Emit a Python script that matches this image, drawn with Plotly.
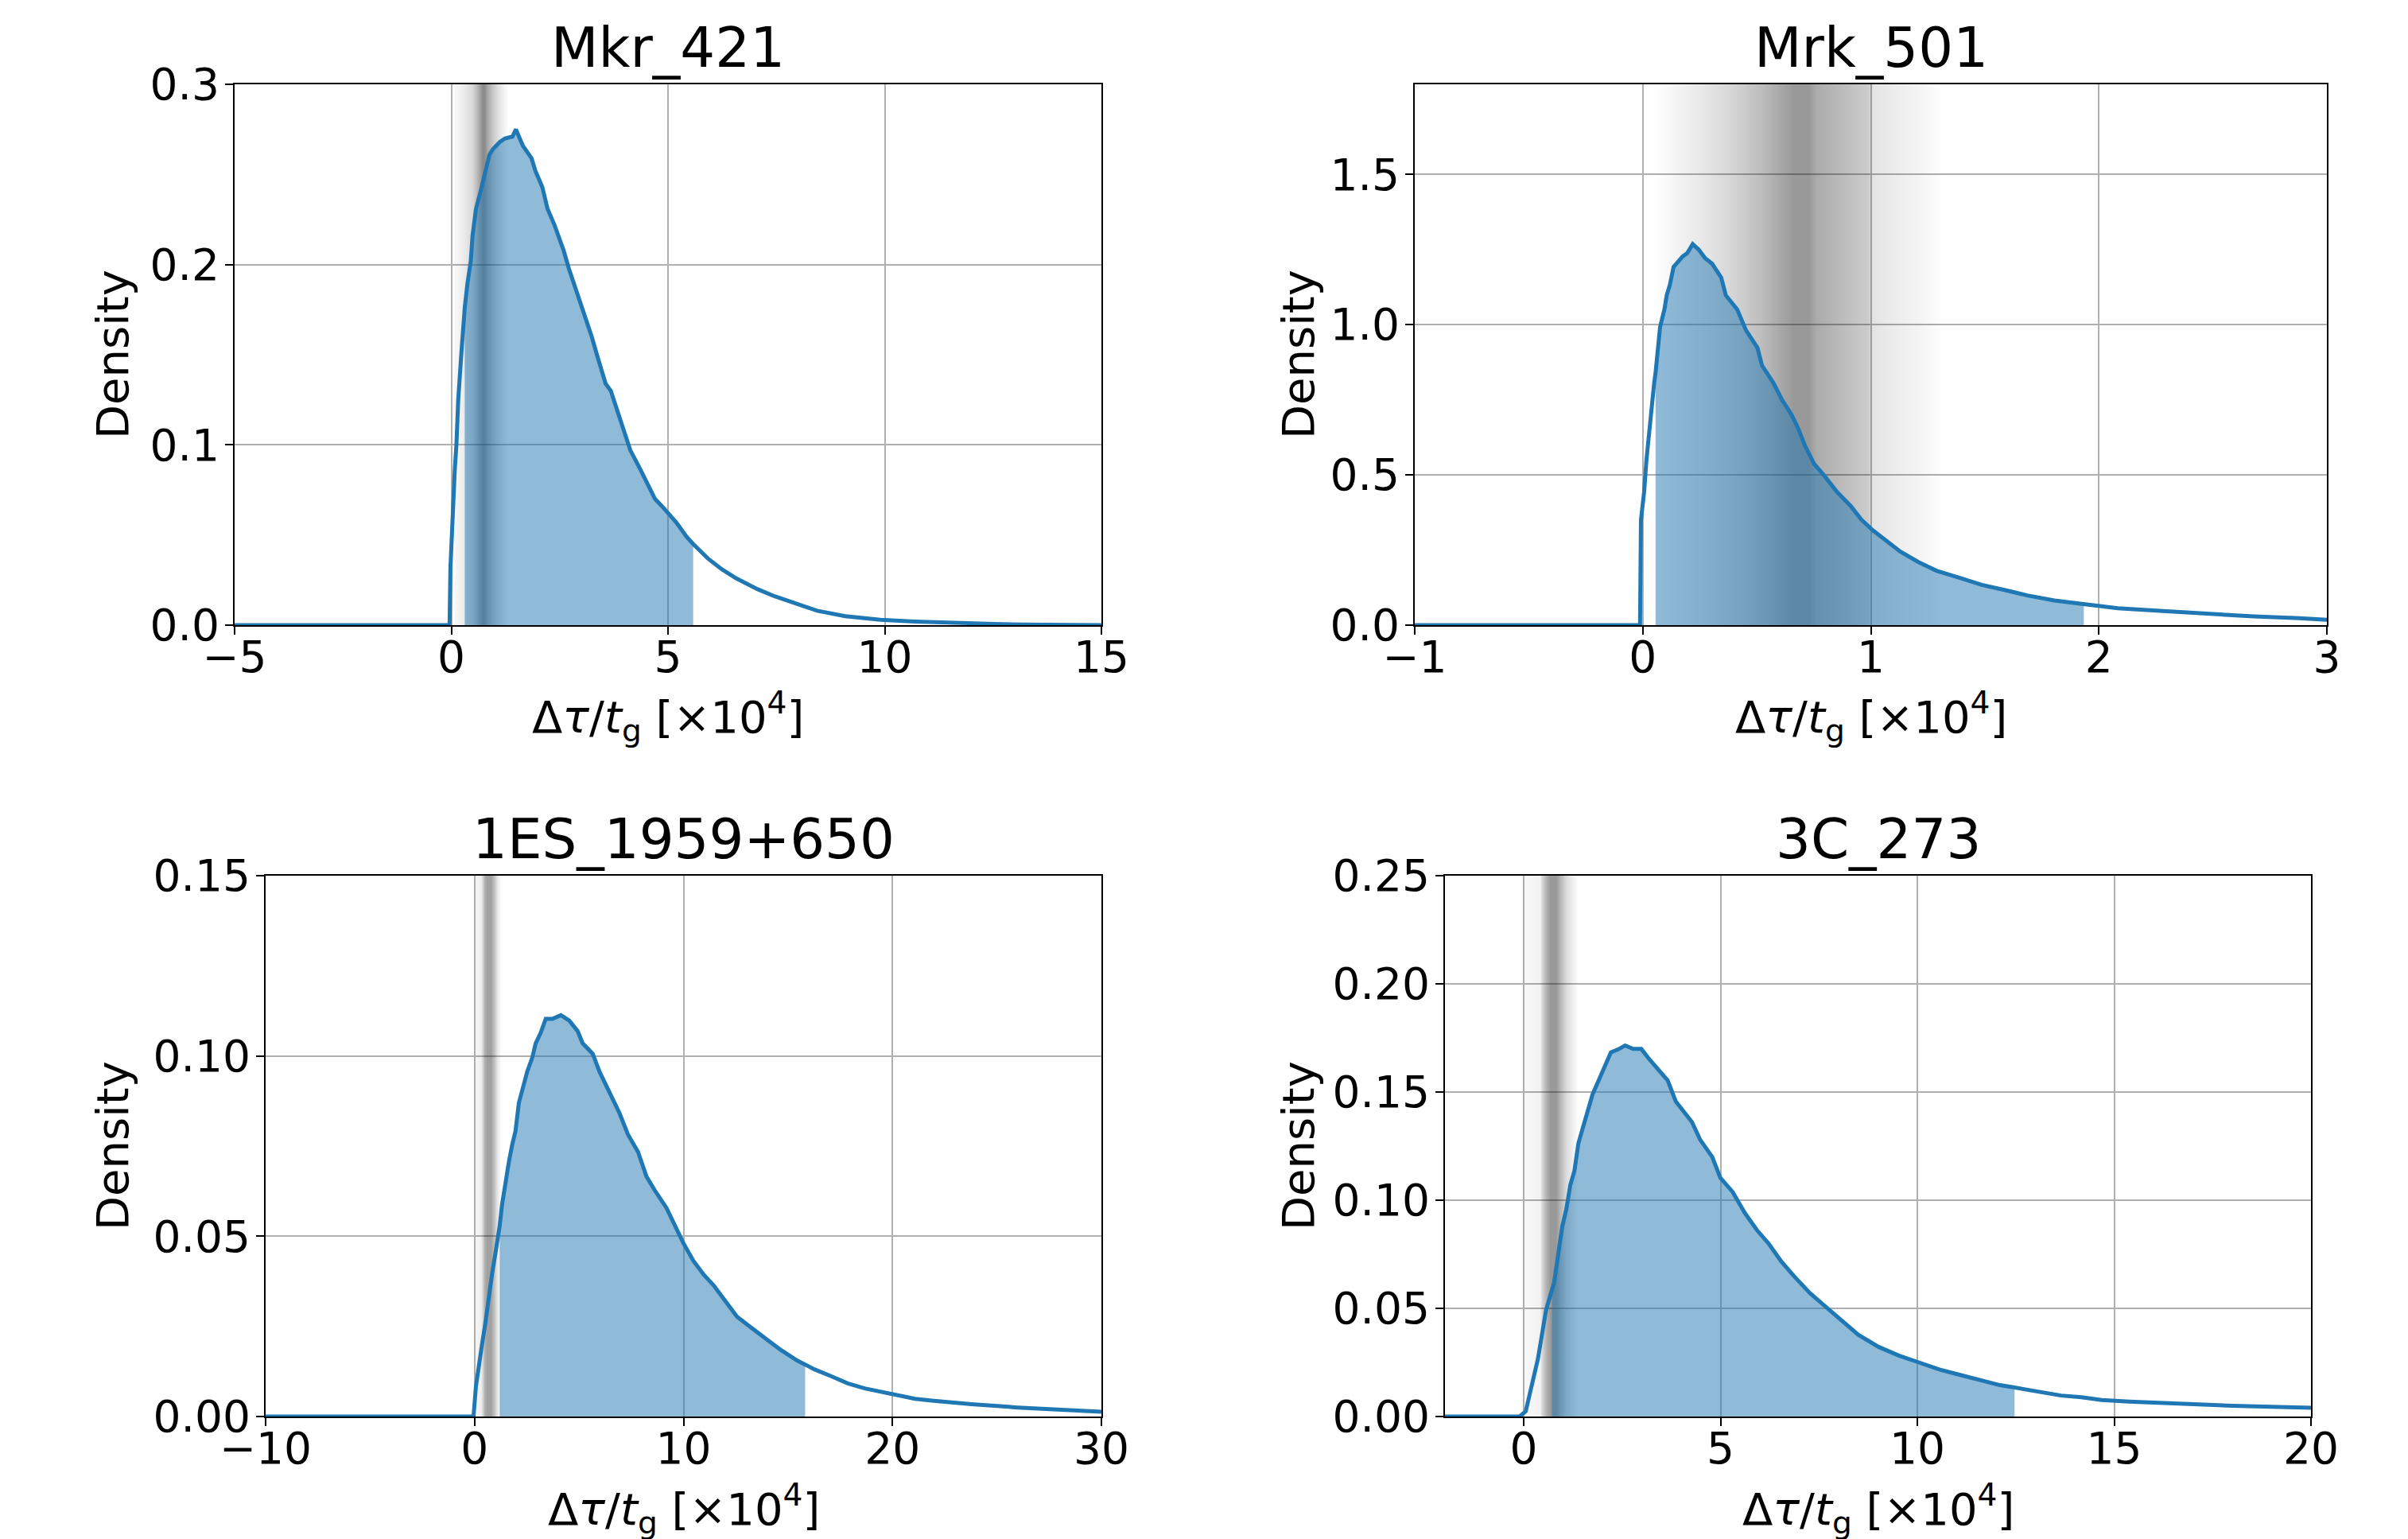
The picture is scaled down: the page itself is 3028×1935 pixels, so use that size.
import numpy as np
import plotly.graph_objects as go

# ---------------- data ----------------
titles = ["Mkr_421", "Mrk_501", "1ES_1959+650", "3C_273"]

mkr421_x = [-5, -0.04, -0.02, 0.03, 0.08, 0.12, 0.16, 0.23, 0.29, 0.31, 0.37, 0.45, 0.49, 0.57, 0.68,
            0.78, 0.88, 0.96, 1.12, 1.24, 1.41, 1.49, 1.65, 1.85, 1.94, 2.10, 2.22, 2.38, 2.59, 2.71,
            2.87, 3.07, 3.24, 3.36, 3.56, 3.68, 3.85, 4.01, 4.13, 4.37, 4.58, 4.70, 4.86, 5.19, 5.43,
            5.58, 5.92, 6.24, 6.57, 7.06, 7.46, 7.95, 8.44, 9.09, 9.90, 10.7, 11.7, 12.5, 13.2, 15]
mkr421_y = [0, 0, 0.032, 0.066, 0.086, 0.101, 0.125, 0.150, 0.171, 0.176, 0.189, 0.202, 0.216, 0.231, 0.241,
            0.251, 0.261, 0.264, 0.268, 0.270, 0.271, 0.275, 0.266, 0.259, 0.252, 0.243, 0.231, 0.222, 0.208, 0.198,
            0.187, 0.173, 0.160, 0.150, 0.134, 0.130, 0.117, 0.105, 0.097, 0.086, 0.076, 0.070, 0.066, 0.057, 0.049,
            0.045, 0.037, 0.031, 0.026, 0.020, 0.016, 0.012, 0.008, 0.005, 0.003, 0.002, 0.001, 0.0007, 0.0003, 0]

mrk501_x = [-1, -0.012, -0.008, 0.006, 0.016, 0.030, 0.040, 0.050, 0.056, 0.066, 0.076, 0.095, 0.105, 0.119,
            0.135, 0.175, 0.195, 0.219, 0.245, 0.274, 0.304, 0.344, 0.364, 0.414, 0.453, 0.503, 0.523, 0.573,
            0.612, 0.652, 0.682, 0.712, 0.751, 0.791, 0.851, 0.911, 0.960, 1.010, 1.070, 1.129, 1.209, 1.288,
            1.388, 1.487, 1.586, 1.686, 1.805, 1.934, 2.004, 2.083, 2.282, 2.481, 2.680, 2.879, 3.0]
mrk501_y = [0, 0, 0.350, 0.444, 0.549, 0.666, 0.748, 0.806, 0.84, 0.911, 0.993, 1.051, 1.098, 1.133,
            1.192, 1.227, 1.238, 1.268, 1.250, 1.221, 1.203, 1.157, 1.098, 1.051, 0.981, 0.923, 0.864, 0.806,
            0.748, 0.701, 0.654, 0.596, 0.537, 0.502, 0.444, 0.397, 0.350, 0.315, 0.280, 0.245, 0.210, 0.181,
            0.158, 0.134, 0.117, 0.099, 0.082, 0.069, 0.064, 0.056, 0.047, 0.037, 0.029, 0.023, 0.018]

es1959_x = [-10, -0.13, -0.05, 0.064, 0.193, 0.353, 0.514, 0.675, 0.835, 0.996, 1.157, 1.205, 1.317, 1.478,
            1.639, 1.799, 1.960, 2.120, 2.361, 2.522, 2.763, 2.924, 3.165, 3.406, 3.727, 4.129, 4.530, 4.932,
            5.173, 5.655, 5.976, 6.458, 6.940, 7.341, 7.823, 8.225, 8.627, 9.189, 9.671, 9.992, 10.47, 10.96,
            11.44, 11.92, 12.56, 13.20, 13.84, 14.65, 15.45, 15.82, 16.26, 17.06, 17.86, 18.67, 19.47, 20.27,
            21.08, 21.88, 22.68, 23.78, 26.0, 28.0, 30.0]
es1959_y = [0, 0, 0, 0.0083, 0.0141, 0.0199, 0.0258, 0.0335, 0.0394, 0.0452, 0.0510, 0.053, 0.0588, 0.0656,
            0.0705, 0.0753, 0.0792, 0.0870, 0.0928, 0.0957, 0.0996, 0.1035, 0.1064, 0.1103, 0.1103, 0.1113, 0.1098, 0.1069,
            0.1035, 0.1006, 0.0957, 0.0899, 0.0841, 0.0782, 0.0734, 0.0666, 0.0627, 0.0578, 0.0520, 0.0481, 0.0432, 0.0394,
            0.0364, 0.0326, 0.0277, 0.0248, 0.0219, 0.0185, 0.0155, 0.0143, 0.0131, 0.0112, 0.0092, 0.0078, 0.0068, 0.0058,
            0.0049, 0.0044, 0.0039, 0.0034, 0.0025, 0.0018, 0.0013]

c273_x = [-2, -0.103, 0.052, 0.155, 0.258, 0.361, 0.464, 0.567, 0.670, 0.72, 0.773, 0.876, 0.979, 1.082,
          1.185, 1.288, 1.391, 1.494, 1.648, 1.751, 1.906, 2.060, 2.215, 2.421, 2.575, 2.781, 2.988, 3.194,
          3.451, 3.657, 3.863, 4.069, 4.275, 4.481, 4.790, 4.996, 5.305, 5.614, 5.924, 6.233, 6.542, 6.851,
          7.263, 7.675, 8.087, 8.499, 9.014, 9.529, 10.04, 10.56, 11.07, 11.59, 12.10, 12.47, 13.13, 13.65,
          14.17, 14.68, 15.38, 16.5, 18.0, 20.0]
c273_y = [0, 0, 0.0024, 0.0105, 0.0169, 0.0266, 0.0378, 0.0491, 0.0556, 0.059, 0.0620, 0.0749, 0.0878, 0.0958,
          0.1071, 0.1135, 0.1264, 0.1329, 0.1425, 0.1490, 0.1554, 0.1618, 0.1683, 0.1699, 0.1715, 0.1699, 0.1699, 0.1651,
          0.1594, 0.1554, 0.1457, 0.1409, 0.1361, 0.1280, 0.1200, 0.1103, 0.1039, 0.0942, 0.0862, 0.0797, 0.0717, 0.0652,
          0.0572, 0.0507, 0.0443, 0.0378, 0.0322, 0.0282, 0.0250, 0.0217, 0.0193, 0.0169, 0.0145, 0.0134, 0.0113, 0.0097,
          0.0089, 0.0076, 0.0069, 0.0060, 0.0050, 0.0040]

# credible interval bounds (shaded region)
ci_lo = [0.31, 0.056, 1.205, 0.72]
ci_hi = [5.58, 1.934, 15.82, 12.47]

# gray constraint band: positions and shade strength
band1_x = [0.02, 0.10, 0.28, 0.47, 0.56, 0.65, 0.71, 0.77, 0.83, 0.95, 1.08, 1.19, 1.32]
band1_s = [0.0, 0.04, 0.075, 0.15, 0.25, 0.37, 0.45, 0.45, 0.35, 0.22, 0.12, 0.06, 0.0]
band2_x = [0.04, 0.10, 0.16, 0.28, 0.40, 0.52, 0.59, 0.63, 0.66, 0.73, 0.76, 0.85, 0.95, 0.99, 1.00, 1.10, 1.22, 1.32]
band2_s = [0.0, 0.02, 0.05, 0.10, 0.17, 0.26, 0.33, 0.37, 0.40, 0.40, 0.33, 0.28, 0.22, 0.20, 0.11, 0.075, 0.04, 0.0]
band3_x = [-0.05, 0.064, 0.27, 0.35, 0.48, 0.59, 0.76, 0.92, 1.08, 1.24, 1.35]
band3_s = [0.0, 0.04, 0.06, 0.12, 0.30, 0.37, 0.37, 0.25, 0.10, 0.02, 0.0]
band4_x = [-0.05, 0.03, 0.41, 0.46, 0.57, 0.67, 0.82, 0.93, 1.08, 1.24, 1.39]
band4_s = [0.0, 0.03, 0.05, 0.15, 0.31, 0.40, 0.40, 0.29, 0.14, 0.06, 0.0]

# axes
x_ranges = [[-5, 15], [-1, 3], [-10, 30], [-2, 20]]
y_ranges = [[0, 0.3], [0, 1.8], [0, 0.15], [0, 0.25]]
x_ticks = [[-5, 0, 5, 10, 15], [-1, 0, 1, 2, 3], [-10, 0, 10, 20, 30], [0, 5, 10, 15, 20]]
y_ticks = [[0, 0.1, 0.2, 0.3], [0, 0.5, 1.0, 1.5], [0, 0.05, 0.10, 0.15], [0, 0.05, 0.10, 0.15, 0.20, 0.25]]
y_formats = [".1f", ".1f", ".2f", ".2f"]

# ---------------- layout geometry ----------------
W, H = 3028, 1935
OFF = 8  # page body margin of the rendered html
px_boxes = [(295, 1385, 106, 786), (1779, 2926, 106, 786),
            (334, 1385, 1101, 1781), (1817, 2906, 1101, 1781)]
ylabel_x = [141, 1632, 141, 1632]
xlabel_y = [901, 901, 1897, 1897]

FONT = "DejaVu Sans"
BLUE = "#1f77b4"

curves_x = [mkr421_x, mrk501_x, es1959_x, c273_x]
curves_y = [mkr421_y, mrk501_y, es1959_y, c273_y]
bands_x = [band1_x, band2_x, band3_x, band4_x]
bands_s = [band1_s, band2_s, band3_s, band4_s]


def px(v):
    return (v - OFF) / W


def py(v):
    return 1 - (v - OFF) / H


fig = go.Figure()
annotations = []
for i in range(4):
    sfx = "" if i == 0 else str(i + 1)
    xa, ya = "x" + sfx, "y" + sfx
    ymax = y_ranges[i][1]
    bx = np.array(bands_x[i])
    bs = np.array(bands_s[i])
    fig.add_trace(go.Heatmap(
        x=bx, y=[0, ymax], z=[bs, bs], zmin=0, zmax=1, zsmooth="best",
        colorscale=[[0, "rgba(0,0,0,0)"], [1, "rgba(0,0,0,1)"]],
        showscale=False, hoverinfo="skip", xaxis=xa, yaxis=ya))
    cx = np.array(curves_x[i])
    cy = np.array(curves_y[i])
    m = (cx >= ci_lo[i]) & (cx <= ci_hi[i])
    fig.add_trace(go.Scatter(
        x=cx[m], y=cy[m], mode="lines", fill="tozeroy", line=dict(width=0, color=BLUE),
        fillcolor="rgba(31,119,180,0.5)", hoverinfo="skip", showlegend=False, xaxis=xa, yaxis=ya))
    fig.add_trace(go.Scatter(
        x=cx, y=cy, mode="lines", line=dict(width=5, color=BLUE),
        showlegend=False, xaxis=xa, yaxis=ya))

    l, r, t, b = px_boxes[i]
    xdom = [px(l), px(r)]
    ydom = [py(b), py(t)]
    common = dict(showline=True, linecolor="black", linewidth=2, mirror=True,
                  ticks="outside", ticklen=10, tickwidth=2, tickcolor="black",
                  showgrid=True, gridcolor="#b0b0b0", gridwidth=2, zeroline=False,
                  automargin=False,
                  tickfont=dict(family=FONT, size=55, color="black"), layer="below traces")
    fig.update_layout(**{
        "xaxis" + sfx: dict(domain=xdom, anchor=ya, range=x_ranges[i], tickvals=x_ticks[i],
                            ticklabelstandoff=-19, **common),
        "yaxis" + sfx: dict(domain=ydom, anchor=xa, range=y_ranges[i], tickvals=y_ticks[i],
                            tickformat=y_formats[i], ticklabelstandoff=-4, **common),
    })
    xc = px((l + r) / 2)
    annotations.append(dict(text=titles[i], x=xc, y=py(t), xref="paper", yref="paper",
                            xanchor="center", yanchor="bottom", yshift=4, showarrow=False,
                            font=dict(family=FONT, size=69, color="black")))
    annotations.append(dict(text="Density", x=px(ylabel_x[i]), y=py((t + b) / 2),
                            xref="paper", yref="paper", xanchor="center", yanchor="middle",
                            textangle=-90, showarrow=False,
                            font=dict(family=FONT, size=56, color="black")))
    annotations.append(dict(text="Δ<i>τ</i>/<i>t</i><sub>g</sub> [×10<sup>4</sup>]",
                            x=xc, y=py(xlabel_y[i]), xref="paper", yref="paper",
                            xanchor="center", yanchor="middle", showarrow=False,
                            font=dict(family=FONT, size=56, color="black")))

fig.update_layout(width=W, height=H, margin=dict(l=0, r=0, t=0, b=0, autoexpand=False),
                  paper_bgcolor="white", plot_bgcolor="white", showlegend=False,
                  annotations=annotations, font=dict(family=FONT))
fig.write_html("out.html")
